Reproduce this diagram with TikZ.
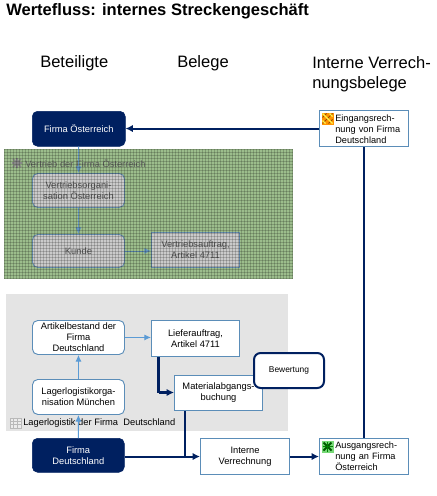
\documentclass[tikz,border=0pt]{standalone}
\usepackage{fontspec}
\setmainfont{Liberation Sans}
\usetikzlibrary{arrows.meta}
\definecolor{navy}{HTML}{002060}
\definecolor{bord}{HTML}{5B8DB8}
\definecolor{lblue}{HTML}{5B9BD5}
\definecolor{panel}{HTML}{E4E4E4}
\definecolor{grn}{HTML}{A4CF90}
\tikzset{x=0.75pt,y=-0.75pt,
 sz/.style 2 args={minimum width=#1*0.75pt,minimum height=#2*0.75pt},
 rbox/.style={draw=bord,fill=white,rounded corners=4pt,line width=0.7pt,align=center,font=\fontsize{7}{8.3}\selectfont,inner sep=0pt,anchor=north west},
 sbox/.style={draw=bord,fill=white,line width=0.8pt,align=center,font=\fontsize{7}{8.3}\selectfont,inner sep=0pt,anchor=north west},
 dark/.style={draw=navy,fill=navy,text=white,rounded corners=4pt,align=center,font=\fontsize{7}{8.3}\selectfont,inner sep=0pt,anchor=north west},
 veiled/.style={fill=black!12,text=black!70},
 thinarrow/.style={draw=lblue,line width=0.7pt,-{Latex[length=5pt,width=4.5pt]}},
 thickarrow/.style={draw=navy,line width=1.5pt,-{Latex[length=5.5pt,width=5.5pt]}},
 thickline/.style={draw=navy,line width=1.5pt},
 head/.style={font=\fontsize{12.4}{15}\selectfont,align=left,text=black,inner sep=0pt},
 lbl/.style={font=\fontsize{7}{9.4}\selectfont,inner sep=0pt,anchor=west},
 doc/.style={font=\fontsize{6.9}{8.1}\selectfont,align=left,inner sep=0pt,anchor=north west,text width=58pt},
}
\begin{document}
\begin{tikzpicture}
\useasboundingbox (0,0) rectangle (436,496);
\node[font=\bfseries\fontsize{12.4}{15}\selectfont,anchor=west,inner sep=0pt] (title) at (6,11) {Wertefluss: internes Streckengeschäft};
\node[head,anchor=west] (h1) at (40,63) {Beteiligte};
\node[head,anchor=west] (h2) at (177,63) {Belege};
\node[head,anchor=north west] (h3) at (312,56) {Interne Verrech-\\nungsbelege};
% panels
\fill[grn] (4,149) rectangle (293,279);
\fill[panel] (6,294) rectangle (288,431);
% nodes
\node[dark,sz={93}{35}] (fo) at (32,111) {Firma Österreich};
\node[rbox,veiled,sz={92}{34}] (vo) at (32,173) {Vertriebsorgani-\\sation Österreich};
\node[rbox,veiled,sz={92}{33}] (ku) at (32,234) {Kunde};
\node[sbox,veiled,sz={88}{35}] (va) at (151,232) {Vertriebsauftrag,\\Artikel 4711};
\node[rbox,sz={92}{34}] (ab) at (32,320) {Artikelbestand der\\Firma\\Deutschland};
\node[sbox,sz={88}{36}] (la) at (151,320) {Lieferauftrag,\\Artikel 4711};
\node[rbox,sz={92}{35}] (ll) at (32,379) {Lagerlogistikorga-\\nisation München};
\node[sbox,sz={88}{35}] (ma) at (174,375) {Materialabgangs-\\buchung};
\node[draw=navy,fill=white,line width=1.5pt,rounded corners=5pt,inner sep=0pt,anchor=north west,font=\fontsize{6.3}{8}\selectfont,sz={70}{35}] (be) at (253,352) {Bewertung};
\node[dark,sz={92}{34}] (fd) at (32,438) {Firma\\Deutschland};
\node[sbox,sz={89}{36}] (iv) at (200,438) {Interne\\Verrechnung};
\node[sbox,sz={89}{36}] (ei) at (319,110) {};
\node[doc] (eit) at (335,114.5) {Eingangsrech-\\nung von Firma\\Deutschland};
\node[sbox,sz={89}{36}] (au) at (319,438) {};
\node[doc] (aut) at (335,441.5) {Ausgangsrech-\\nung an Firma\\Österreich};
\node[lbl] (lg) at (23,423) {Lagerlogistik der Firma\ \ Deutschland};
\node[lbl,text=black!65] (vt) at (25,164) {Vertrieb der Firma Österreich};
% thin connectors
\draw[thinarrow] (fo) -- (vo);
\draw[thinarrow] (vo) -- (ku);
\draw[thinarrow] (ku.east) -- (ku.east -| va.west);
\draw[thinarrow] (fd) -- (ll);
\draw[thinarrow] (ll) -- (ab);
\draw[thinarrow] (ab.east) -- (ab.east -| la.west);
% thick connectors
\coordinate (c1) at (158.5,392.5);
\coordinate (c2) at (185,456);
\draw[thickline,line width=1.9pt] (c1 |- la.south) -- (c1);
\draw[thickarrow,line width=1.9pt] (c1) -- (c1 -| ma.west);
\draw[thickline] (c2 |- ma.south) -- (c2);
\draw[thickarrow] (fd.east |- iv.west) -- (iv.west);
\draw[thickarrow] (iv.east) -- (au.west);
\draw[thickline] (au.north) -- (ei.south);
\draw[thickarrow] (ei.west) -- (ei.west -| fo.east);
% icons
\begin{scope}[shift={(321.5,112.5)}]
 \fill[orange!85!yellow] (0,0) rectangle (12,12);
 \draw[orange!60!black,line width=0.7pt] (1,11) -- (11,1) (1,5) -- (5,1) (7,11) -- (11,7);
 \draw[yellow!70!white,line width=0.8pt] (1,1) -- (11,11) (1,8) -- (4,11) (8,1) -- (11,4);
\end{scope}
\begin{scope}[shift={(321.5,440.5)}]
 \fill[green!45!white!85!black] (0,0) rectangle (12,12);
 \draw[green!35!black,line width=1.5pt] (2,2) -- (10,10) (2,10) -- (10,2);
 \draw[green!50!black,line width=0.8pt] (6,1) -- (6,11) (1,6) -- (11,6);
\end{scope}
\begin{scope}[shift={(10,418)}]
 \fill[gray!15] (0,0) rectangle (11,10);
 \draw[gray!55,line width=0.3pt] (3.67,0) -- (3.67,10) (7.33,0) -- (7.33,10) (0,3.33) -- (11,3.33) (0,6.67) -- (11,6.67) (0,0) rectangle (11,10);
\end{scope}
\begin{scope}[shift={(12,158)}]
 \draw[black!45,line width=1.2pt] (1,1) -- (9,9) (1,9) -- (9,1) (5,0) -- (5,10) (0,5) -- (10,5);
\end{scope}
% gray veil and pixel-aligned grid over the green panel
\fill[gray,opacity=0.22] (4,149) rectangle (293,279);
\begin{scope}
 \clip (4,149) rectangle (293,279);
 \foreach \i in {0,...,96} \draw[black,line width=0.75pt,opacity=0.18] (4.5+\i*3,149) -- (4.5+\i*3,279);
 \foreach \i in {0,...,43} \draw[black,line width=0.75pt,opacity=0.18] (4,149.5+\i*3) -- (293,149.5+\i*3);
\end{scope}
\end{tikzpicture}
\end{document}
